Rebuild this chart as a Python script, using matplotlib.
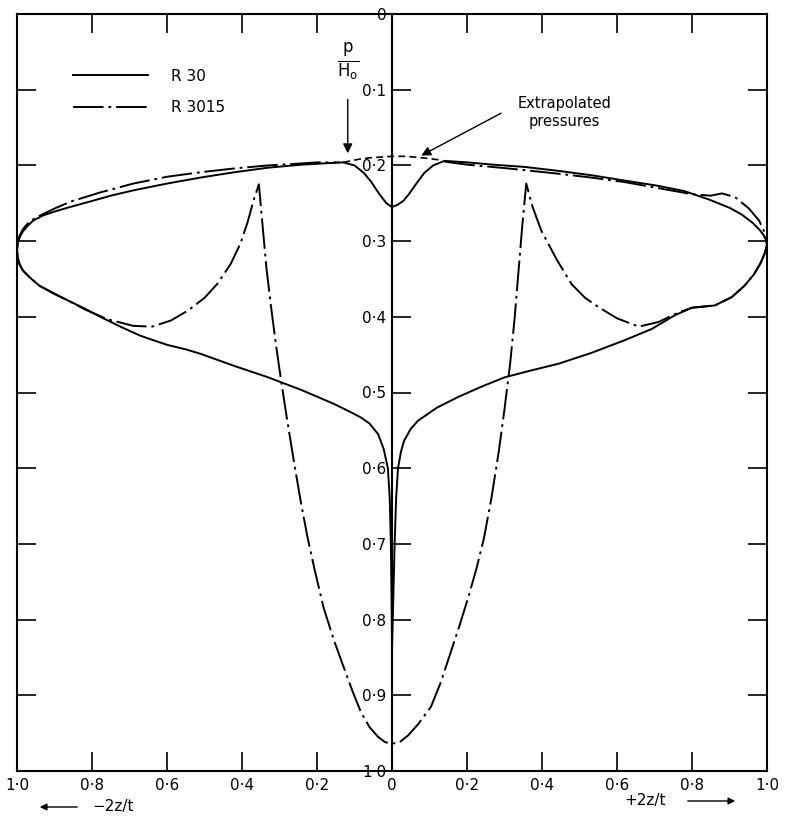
import matplotlib
matplotlib.use("Agg")
import matplotlib.pyplot as plt

plt.rcParams['font.family'] = ['DejaVu Sans']
plt.rcParams['lines.scale_dashes'] = False

# R30, upper surface (left edge -> right edge)
r30_up_x = [-1.0, -0.998, -0.993, -0.984, -0.97, -0.957, -0.93, -0.9, -0.866, -0.8,
            -0.75, -0.69, -0.6, -0.51, -0.42, -0.33, -0.24, -0.17, -0.13, -0.1,
            -0.075, -0.055, -0.035, -0.015, 0.0, 0.015, 0.03, 0.045, 0.065, 0.086,
            0.11, 0.14, 0.2, 0.27, 0.353, 0.44, 0.532, 0.62, 0.71, 0.78,
            0.845, 0.9, 0.933, 0.962, 0.98, 0.991, 0.997, 1.0]
r30_up_y = [0.312, 0.303, 0.295, 0.287, 0.279, 0.273, 0.266, 0.261, 0.256, 0.247,
            0.24, 0.233, 0.224, 0.216, 0.209, 0.203, 0.199, 0.197, 0.196, 0.2,
            0.21, 0.222, 0.237, 0.25, 0.255, 0.252, 0.247, 0.238, 0.224, 0.21,
            0.2, 0.194, 0.196, 0.199, 0.202, 0.207, 0.213, 0.22, 0.227, 0.234,
            0.245, 0.256, 0.265, 0.276, 0.285, 0.292, 0.298, 0.305]

# R30, lower surface
r30_lo_x = [-1.0, -0.998, -0.993, -0.984, -0.97, -0.957, -0.94, -0.9, -0.866, -0.82,
            -0.778, -0.72, -0.671, -0.63, -0.6, -0.55, -0.51, -0.42, -0.33, -0.24,
            -0.155, -0.11, -0.083, -0.06, -0.037, -0.022, -0.011, -0.006, -0.003, -0.001,
            0.0, 0.003, 0.007, 0.011, 0.016, 0.024, 0.032, 0.05, 0.07, 0.12,
            0.176, 0.24, 0.3, 0.37, 0.444, 0.53, 0.62, 0.693, 0.754, 0.8,
            0.861, 0.906, 0.94, 0.965, 0.983, 0.994, 1.0]
r30_lo_y = [0.312, 0.322, 0.331, 0.339, 0.346, 0.352, 0.359, 0.37, 0.378, 0.389,
            0.4, 0.414, 0.425, 0.432, 0.437, 0.443, 0.449, 0.465, 0.48, 0.497,
            0.515, 0.526, 0.533, 0.541, 0.555, 0.575, 0.6, 0.64, 0.7, 0.78,
            0.84, 0.78, 0.7, 0.64, 0.6, 0.578, 0.564, 0.548, 0.537, 0.52,
            0.506, 0.492, 0.48, 0.471, 0.462, 0.448, 0.431, 0.416, 0.398, 0.388,
            0.385, 0.374, 0.359, 0.344, 0.329, 0.316, 0.305]

# R3015, upper surface (two pieces either side of the extrapolated part)
r3015_upl_x = [-1.0, -0.998, -0.993, -0.984, -0.97, -0.95, -0.9, -0.858, -0.78, -0.69,
               -0.6, -0.51, -0.42, -0.33, -0.26, -0.2, -0.14]
r3015_upl_y = [0.312, 0.302, 0.293, 0.284, 0.276, 0.269, 0.257, 0.248, 0.236, 0.224,
               0.215, 0.209, 0.204, 0.2, 0.198, 0.196, 0.196]
r3015_upr_x = [0.14, 0.2, 0.31, 0.444, 0.53, 0.62, 0.71, 0.8, 0.85, 0.88,
               0.915, 0.952, 0.979, 0.993, 1.0]
r3015_upr_y = [0.195, 0.199, 0.204, 0.211, 0.216, 0.222, 0.23, 0.238, 0.24, 0.237,
               0.242, 0.257, 0.273, 0.288, 0.305]

# R3015, lower surface
r3015_lo_x = [-1.0, -0.998, -0.993, -0.984, -0.97, -0.94, -0.866, -0.82, -0.76, -0.69,
              -0.64, -0.59, -0.545, -0.5, -0.465, -0.43, -0.404, -0.385, -0.369, -0.355,
              -0.345, -0.335, -0.323, -0.31, -0.297, -0.28, -0.262, -0.243, -0.225, -0.205,
              -0.182, -0.155, -0.128, -0.105, -0.083, -0.06, -0.037, -0.018, 0.0, 0.02,
              0.043, 0.07, 0.104, 0.13, 0.15, 0.18, 0.205, 0.225, 0.245, 0.265,
              0.285, 0.3, 0.315, 0.327, 0.337, 0.347, 0.358, 0.375, 0.398, 0.44,
              0.479, 0.515, 0.55, 0.6, 0.658, 0.71, 0.765, 0.8, 0.861, 0.906,
              0.94, 0.965, 0.983, 0.994, 1.0]
r3015_lo_y = [0.312, 0.322, 0.331, 0.339, 0.346, 0.359, 0.378, 0.39, 0.403, 0.412,
              0.413, 0.405, 0.392, 0.375, 0.356, 0.33, 0.303, 0.275, 0.246, 0.225,
              0.28, 0.335, 0.385, 0.435, 0.48, 0.535, 0.59, 0.645, 0.692, 0.737,
              0.785, 0.827, 0.864, 0.895, 0.922, 0.942, 0.955, 0.962, 0.964, 0.962,
              0.953, 0.938, 0.915, 0.883, 0.853, 0.808, 0.768, 0.733, 0.693, 0.64,
              0.577, 0.522, 0.462, 0.402, 0.342, 0.282, 0.224, 0.255, 0.286, 0.325,
              0.357, 0.375, 0.387, 0.402, 0.413, 0.407, 0.394, 0.388, 0.385, 0.374,
              0.359, 0.344, 0.329, 0.316, 0.305]

# extrapolated pressures across the centre
extrap_x = [-0.13, -0.09, -0.06, -0.03, 0.0, 0.03, 0.06, 0.1, 0.13]
extrap_y = [0.196, 0.192, 0.19, 0.189, 0.188, 0.188, 0.189, 0.191, 0.193]

x_ticks = [-1.0, -0.8, -0.6, -0.4, -0.2, 0.0, 0.2, 0.4, 0.6, 0.8, 1.0]
x_tick_labels = ['1·0', '0·8', '0·6', '0·4', '0·2', '0', '0·2', '0·4', '0·6', '0·8', '1·0']
y_ticks = [0.0, 0.1, 0.2, 0.3, 0.4, 0.5, 0.6, 0.7, 0.8, 0.9, 1.0]
y_tick_labels = ['0', '0·1', '0·2', '0·3', '0·4', '0·5', '0·6', '0·7', '0·8', '0·9', '1·0']

dashdot = (0, (22, 3.5, 2, 3.5))

fig = plt.figure(figsize=(7.86, 8.16), dpi=100)
ax = fig.add_axes([17 / 786, 45 / 816, 750 / 786, 757 / 816])
ax.set_xlim(-1, 1)
ax.set_ylim(1, 0)

for s in ax.spines.values():
    s.set_linewidth(1.5)

ax.set_xticks(x_ticks)
ax.set_xticklabels(x_tick_labels, fontsize=11)
ax.set_yticks(y_ticks[1:-1])
ax.tick_params(axis='both', direction='in', length=14, width=1.2,
               top=True, bottom=True, left=True, right=True,
               labelleft=False, pad=5)

# central p/Ho axis
sec = ax.secondary_yaxis(0.5)
sec.set_alignment('left')
sec.spines['left'].set_linewidth(1.5)
sec.set_yticks(y_ticks)
sec.set_yticklabels(y_tick_labels, fontsize=11)
sec.tick_params(direction='in', length=14, width=1.2, pad=4)

lw = 1.4
ax.plot(r30_up_x, r30_up_y, color='black', lw=lw, label='R 30')
ax.plot(r30_lo_x, r30_lo_y, color='black', lw=lw)
ax.plot(r3015_upl_x, r3015_upl_y, color='black', lw=lw, ls=dashdot, label='R 3015')
ax.plot(r3015_upr_x, r3015_upr_y, color='black', lw=lw, ls=dashdot)
ax.plot(r3015_lo_x, r3015_lo_y, color='black', lw=lw, ls=dashdot)
ax.plot(extrap_x, extrap_y, color='black', lw=1.2, ls=(0, (5, 3)))

ax.legend(loc='upper left', bbox_to_anchor=(0.075, 0.928), frameon=False,
          fontsize=11, handlelength=4.9, handletextpad=1.5, labelspacing=1.1,
          borderpad=0, borderaxespad=0)

ax.text(0.46, 0.13, 'Extrapolated\npressures', ha='center', va='center',
        fontsize=10.5, linespacing=1.3)
ax.annotate('', xy=(0.078, 0.187), xytext=(0.291, 0.131),
            arrowprops=dict(arrowstyle='-|>', color='black', lw=1.0,
                            mutation_scale=14, shrinkA=0, shrinkB=0))

ax.text(-0.118, 0.063, r'$\frac{\mathrm{p}}{\mathrm{H_o}}$', ha='center', va='center',
        fontsize=17)
ax.annotate('', xy=(-0.118, 0.184), xytext=(-0.118, 0.113),
            arrowprops=dict(arrowstyle='-|>', color='black', lw=1.0,
                            mutation_scale=14, shrinkA=0, shrinkB=0))

fig.text(92 / 786, 1 - 807 / 816, '−2z/t', fontsize=11, va='center')
fig.text(624 / 786, 1 - 801 / 816, '+2z/t', fontsize=11, va='center')
ax.annotate('', xy=(37, 9), xytext=(80, 9), xycoords='figure pixels',
            arrowprops=dict(arrowstyle='-|>', color='black', lw=1.0, mutation_scale=10))
ax.annotate('', xy=(738, 15), xytext=(685, 15), xycoords='figure pixels',
            arrowprops=dict(arrowstyle='-|>', color='black', lw=1.0, mutation_scale=10))

fig.savefig('out.png', dpi=100)
